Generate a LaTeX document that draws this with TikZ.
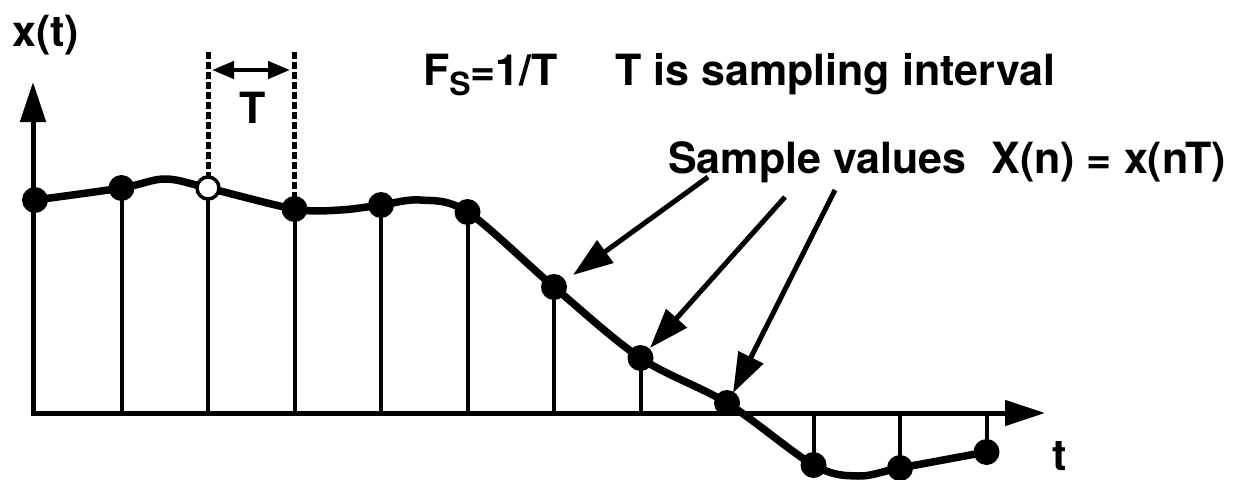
\documentclass[tikz,border=0pt]{standalone}
\usepackage{fontspec}
\setmainfont{TeX Gyre Heros}
\usetikzlibrary{arrows.meta}
\begin{document}
\begin{tikzpicture}[x=1pt,y=-1pt,
  lbl/.style={font=\fontsize{43}{43}\selectfont\bfseries, inner sep=0pt},
  dotf/.style={circle,fill=black,inner sep=0pt,minimum size=26pt},
  doth/.style={circle,fill=white,draw=black,line width=3.5pt,inner sep=0pt,minimum size=22pt},
  stemln/.style={line width=4pt},
  axisln/.style={line width=5pt,-{Triangle[length=40pt,width=25pt]}},
  curveln/.style={line width=7.5pt,line join=round},
  ptr/.style={line width=5pt,-{Triangle[length=40pt,width=27pt]}},
  dashln/.style={line width=5pt,dash pattern=on 7pt off 3pt},
  dimarr/.style={line width=4.5pt,{Triangle[length=22pt,width=17pt]}-{Triangle[length=22pt,width=17pt]}}]
\useasboundingbox (0,0) rectangle (1247,479);
% sample points
\coordinate (p1) at (35,200);
\coordinate (p2) at (121.5,188);
\coordinate (p3) at (208,188);
\coordinate (p4) at (294.5,209);
\coordinate (p5) at (381,205);
\coordinate (p6) at (467.5,212);
\coordinate (p7) at (554,287);
\coordinate (p8) at (640.5,358);
\coordinate (p9) at (727,403);
\coordinate (p10) at (813.5,465);
\coordinate (p11) at (900,468);
\coordinate (p12) at (986.5,452);
% axes
\coordinate (o) at (33,413);
\coordinate (ox) at (31,413);
\coordinate (ytip) at (33,82);
\coordinate (xtip) at (1045,413);
\draw[axisln] (o) -- (ytip);
\draw[axisln] (ox) -- (xtip);
% stems
\foreach \i in {2,...,12} { \draw[stemln] (p\i) -- (p\i |- o); }
% dashed interval markers
\coordinate (dl) at (208,52);
\coordinate (dr) at (294.5,52);
\draw[dashln] (dl) -- (p3);
\draw[dashln] (dr) -- (p4);
\coordinate (al) at (212,70);
\coordinate (ar) at (290,70);
\draw[dimarr] (al) -- (ar);
% curve
\draw[curveln] plot[smooth,tension=0.55] coordinates {(p1) (p2) (165,179) (p3) (p4) (340,210) (p5) (420,200) (p6) (p7) (p8) (p9) (p10) (858,476) (p11) (p12)};
% dots
\foreach \i in {1,2,4,5,6,7,8,9,10,11,12} { \node[dotf] (d\i) at (p\i) {}; }
\node[doth] (d3) at (p3) {};
% labels
\node[lbl,anchor=base west] (xlab) at (12,46) {x(t)};
\node[lbl,anchor=base] (tlab) at (253,123) {T};
\node[lbl,anchor=base west] (fs) at (423,85) {F\raisebox{-10pt}{\fontsize{32}{32}\selectfont S}=1/T};
\node[lbl,anchor=base west] (tis) at (615,85) {T is sampling interval};
\node[lbl,anchor=base west] (sv) at (668,173) {Sample values\hspace{0.3em} X(n) = x(nT)};
\node[lbl,anchor=base west] (tl) at (1052,470) {t};
% pointer arrows
\coordinate (s1) at (708,177);
\coordinate (s2) at (785,197);
\coordinate (s3) at (835,190);
\coordinate (e1) at (573,275);
\coordinate (e2) at (650,348);
\coordinate (e3) at (733,393);
\draw[ptr] (s1) -- (e1);
\draw[ptr] (s2) -- (e2);
\draw[ptr] (s3) -- (e3);
\end{tikzpicture}
\end{document}
